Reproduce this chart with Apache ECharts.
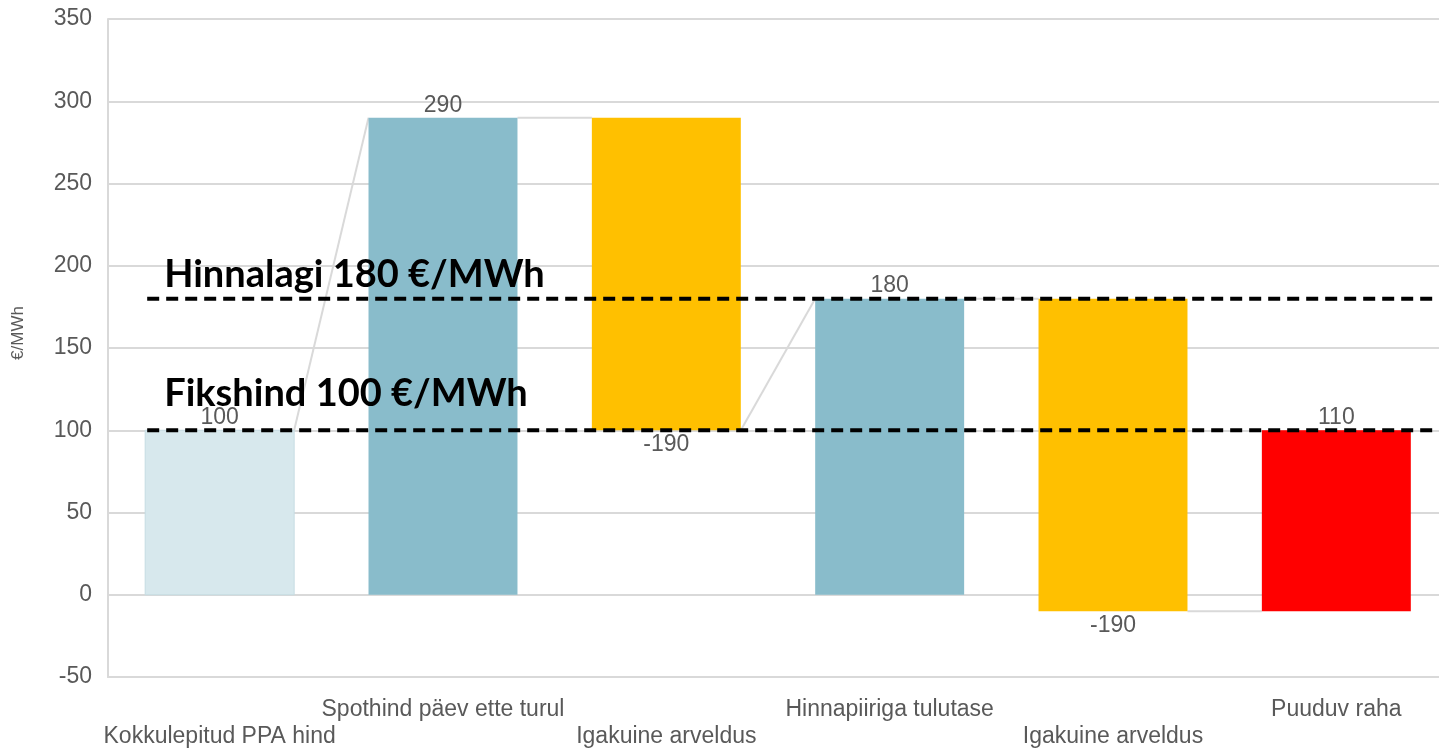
<!DOCTYPE html>
<html>
<head>
<meta charset="utf-8">
<title>PPA hinnalagi</title>
<script src="https://cdn.jsdelivr.net/npm/echarts@6/dist/echarts.min.js"></script>
<style>
  html, body { margin: 0; padding: 0; background: #ffffff; }
  #chart { width: 1439px; height: 749px; }
</style>
</head>
<body>
<div id="chart"></div>
<script>
// Waterfall steps: each bar runs from barStart to barEnd (€/MWh)
const categories = [
  'Kokkulepitud PPA hind',
  'Spothind päev ette turul',
  'Igakuine arveldus',
  'Hinnapiiriga tulutase',
  'Igakuine arveldus',
  'Puuduv raha'
];
const barStart = [0, 0, 290, 0, 180, -10];
const barEnd   = [100, 290, 100, 180, -10, 100];

// Connector lines between neighbouring bars (level at the left bar, level at the right bar)
const connectorFrom = [100, 290, 100, 180, -10];
const connectorTo   = [290, 290, 180, 180, -10];

// Reference price levels drawn as dashed lines
const guideLevels = [180, 100];
const guideTitles = ['Hinnalagi 180 €/MWh', 'Fikshind 100 €/MWh'];

// Y axis ticks
const yTicks = { min: -50, max: 350, step: 50 };

// ---- styling ----
const barColors = ['#D7E8ED', '#89BCCB', '#FFC000', '#89BCCB', '#FFC000', '#FF0000'];
const barStroke = ['#C6DCE3', null, null, null, null, null];
const barWidthRatio = 0.667;
const labelColor = '#595959';
const gridColor = '#D9D9D9';
const baseFont = "'Liberation Sans', Arial, sans-serif";
const guideTextLift = [24, 37];
const guideTextIndent = 17;

const chart = echarts.init(document.getElementById('chart'), null, { renderer: 'canvas' });

const barData = categories.map((c, i) => [i, barStart[i], barEnd[i]]);
const connectorData = connectorFrom.map((v, i) => [i, v, connectorTo[i]]);
const guideData = guideLevels.map((v, i) => [0, v, i]);

function halfBar(api) {
  return api.size([1, 0])[0] * barWidthRatio / 2;
}

function renderBar(params, api) {
  const i = api.value(0);
  const s = api.value(1);
  const e = api.value(2);
  const hi = Math.max(s, e), lo = Math.min(s, e);
  const pTop = api.coord([i, hi]);
  const pBot = api.coord([i, lo]);
  const hw = halfBar(api);
  const delta = Math.round(e - s);
  const up = delta >= 0;
  const style = { fill: barColors[i] };
  if (barStroke[i]) { style.stroke = barStroke[i]; style.lineWidth = 1; }
  return {
    type: 'group',
    children: [
      {
        type: 'rect',
        shape: { x: pTop[0] - hw, y: pTop[1], width: hw * 2, height: pBot[1] - pTop[1] },
        style: style
      },
      {
        type: 'text',
        x: pTop[0],
        y: up ? pTop[1] - 1 : pBot[1] + 3,
        style: {
          text: String(delta),
          fill: labelColor,
          font: '23px ' + baseFont,
          textAlign: 'center',
          textVerticalAlign: up ? 'bottom' : 'top'
        }
      }
    ]
  };
}

function renderConnector(params, api) {
  const i = api.value(0);
  const hw = halfBar(api);
  const a = api.coord([i, api.value(1)]);
  const b = api.coord([i + 1, api.value(2)]);
  return {
    type: 'line',
    shape: { x1: a[0] + hw, y1: a[1], x2: b[0] - hw, y2: b[1] },
    style: { stroke: gridColor, lineWidth: 2 }
  };
}

function renderGuide(params, api) {
  const level = api.value(1);
  const k = api.value(2);
  const p = api.coord([0, level]);
  const hw = halfBar(api);
  const x0 = p[0] - hw + 2;
  const x1 = params.coordSys.x + params.coordSys.width;
  return {
    type: 'group',
    children: [
      {
        type: 'line',
        shape: { x1: x0, y1: p[1], x2: x1, y2: p[1] },
        style: { stroke: '#000000', lineWidth: 4, lineDash: [12, 7] }
      },
      {
        type: 'text',
        x: x0 + guideTextIndent,
        y: p[1] - guideTextLift[k],
        style: {
          text: guideTitles[k],
          fill: '#000000',
          font: "bold 38px Lato, 'Open Sans', sans-serif",
          textAlign: 'left',
          textVerticalAlign: 'middle'
        }
      }
    ]
  };
}

const option = {
  animation: false,
  backgroundColor: '#ffffff',
  grid: {
    left: 108,
    right: -9,
    top: 19,
    bottom: 72,
    containLabel: false,
    outerBoundsMode: 'none'
  },
  xAxis: {
    type: 'category',
    data: categories,
    boundaryGap: true,
    axisLine: { show: true, onZero: false, lineStyle: { color: gridColor, width: 2 } },
    axisTick: { show: false },
    splitLine: { show: false },
    axisLabel: {
      interval: 0,
      margin: 19,
      color: labelColor,
      fontFamily: baseFont,
      fontSize: 23,
      lineHeight: 27,
      formatter: (v, i) => (i % 2 === 0 ? '\n' + v : v)
    }
  },
  yAxis: {
    type: 'value',
    min: yTicks.min,
    max: yTicks.max,
    interval: yTicks.step,
    name: '€/MWh',
    nameLocation: 'middle',
    nameGap: 81,
    nameRotate: 90,
    nameTextStyle: {
      color: labelColor,
      fontFamily: baseFont,
      fontSize: 17,
      padding: [0, 0, 0, 30]
    },
    axisLine: { show: true, lineStyle: { color: gridColor, width: 2 } },
    axisTick: { show: false },
    axisLabel: {
      margin: 16,
      color: labelColor,
      fontFamily: baseFont,
      fontSize: 23
    },
    splitLine: { show: true, lineStyle: { color: gridColor, width: 2 } }
  },
  series: [
    {
      type: 'custom',
      name: 'connectors',
      renderItem: renderConnector,
      data: connectorData,
      encode: { x: 0, y: [1, 2] },
      z: 2,
      silent: true
    },
    {
      type: 'custom',
      name: 'steps',
      renderItem: renderBar,
      data: barData,
      encode: { x: 0, y: [1, 2] },
      z: 3
    },
    {
      type: 'custom',
      name: 'guides',
      renderItem: renderGuide,
      data: guideData,
      encode: { x: 0, y: 1 },
      z: 5,
      silent: true
    }
  ]
};

chart.setOption(option);
</script>
</body>
</html>
